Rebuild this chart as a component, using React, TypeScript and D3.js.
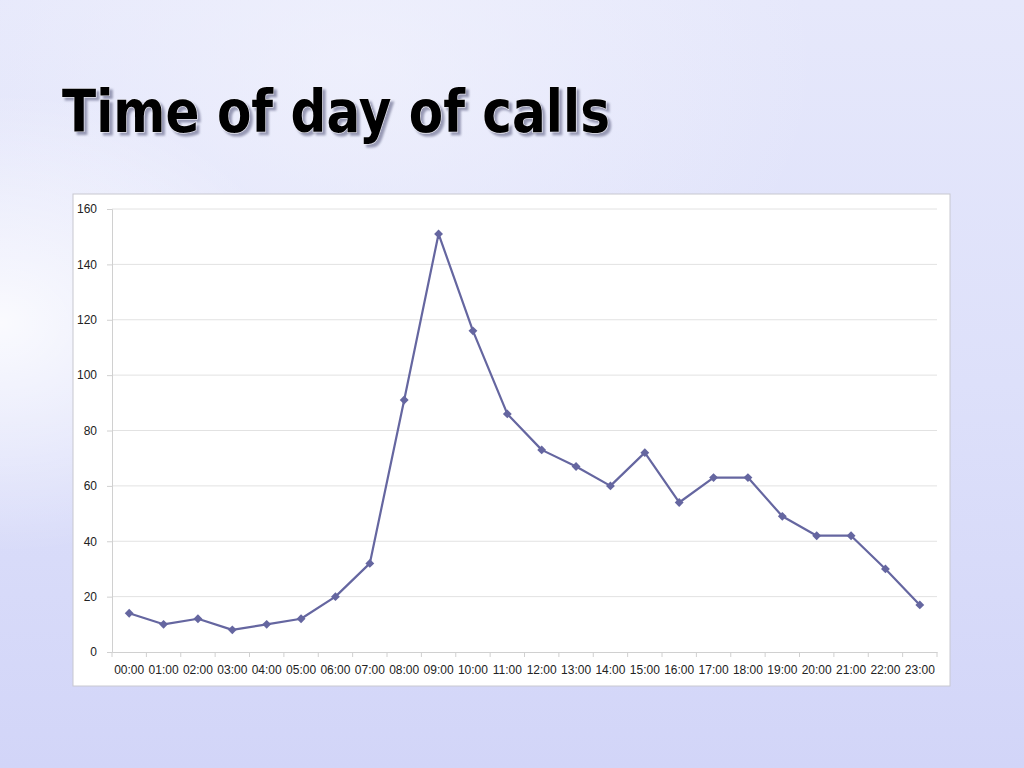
import React, { useRef, useEffect } from "react";
import * as d3 from "d3";

const hours = [
  "00:00", "01:00", "02:00", "03:00", "04:00", "05:00", "06:00", "07:00",
  "08:00", "09:00", "10:00", "11:00", "12:00", "13:00", "14:00", "15:00",
  "16:00", "17:00", "18:00", "19:00", "20:00", "21:00", "22:00", "23:00",
];
const calls = [14, 10, 12, 8, 10, 12, 20, 32, 91, 151, 116, 86, 73, 67, 60, 72, 54, 63, 63, 49, 42, 42, 30, 17];
const yTicks = [0, 20, 40, 60, 80, 100, 120, 140, 160];
const title = "Time of day of calls";

const W = 1024;
const H = 768;
const box = { x: 73, y: 194, w: 877, h: 492 };
const plot = { left: 112, right: 937, top: 209, bottom: 652 };

const App: React.FC = () => {
  const svg = useRef<SVGSVGElement>(null);

  useEffect(() => {
    const s = d3.select(svg.current);
    s.selectAll("*").remove();

    const defs = s.append("defs");
    const bg = defs.append("linearGradient").attr("id", "bg").attr("x1", 0).attr("y1", 0).attr("x2", 0).attr("y2", 1);
    bg.append("stop").attr("offset", "0%").attr("stop-color", "#e6e8fb");
    bg.append("stop").attr("offset", "50%").attr("stop-color", "#dde0fa");
    bg.append("stop").attr("offset", "100%").attr("stop-color", "#d2d5f8");
    const glow = defs.append("radialGradient").attr("id", "glow").attr("cx", 0).attr("cy", 0.42).attr("r", 0.3);
    glow.append("stop").attr("offset", "0%").attr("stop-color", "#ffffff").attr("stop-opacity", 0.85);
    glow.append("stop").attr("offset", "100%").attr("stop-color", "#ffffff").attr("stop-opacity", 0);
    const cloud = defs.append("radialGradient").attr("id", "cloud").attr("cx", 0.35).attr("cy", 0.08).attr("r", 0.45);
    cloud.append("stop").attr("offset", "0%").attr("stop-color", "#f2f3fd").attr("stop-opacity", 0.7);
    cloud.append("stop").attr("offset", "100%").attr("stop-color", "#f2f3fd").attr("stop-opacity", 0);
    const shadow = defs.append("filter").attr("id", "shadow").attr("x", "-5%").attr("y", "-20%").attr("width", "115%").attr("height", "150%");
    shadow.append("feDropShadow").attr("dx", 3).attr("dy", 3).attr("stdDeviation", 0.8)
      .attr("flood-color", "#8e90ac").attr("flood-opacity", 0.9);

    s.append("rect").attr("width", W).attr("height", H).attr("fill", "url(#bg)");
    s.append("rect").attr("width", W).attr("height", H).attr("fill", "url(#cloud)");
    s.append("rect").attr("width", W).attr("height", H).attr("fill", "url(#glow)");

    // title with drop shadow
    s.append("text")
      .attr("x", 62).attr("y", 132)
      .attr("font-family", "DejaVu Sans").attr("font-weight", "bold").attr("font-size", 58)
      .attr("textLength", 548).attr("lengthAdjust", "spacingAndGlyphs")
      .attr("fill", "#000").attr("stroke", "#f0f0f8").attr("stroke-width", 1.2).attr("paint-order", "stroke")
      .attr("filter", "url(#shadow)")
      .text(title);

    // chart box
    s.append("rect")
      .attr("x", box.x).attr("y", box.y).attr("width", box.w).attr("height", box.h)
      .attr("fill", "#fff").attr("stroke", "#c8c8d0").attr("stroke-width", 1);

    const x = d3.scaleBand().domain(hours).range([plot.left, plot.right]).padding(0);
    const y = d3.scaleLinear().domain([0, 160]).range([plot.bottom, plot.top]);

    const g = s.append("g");

    // gridlines
    g.selectAll("line.grid")
      .data(yTicks.filter((t) => t > 0))
      .join("line")
      .attr("class", "grid")
      .attr("x1", plot.left).attr("x2", plot.right)
      .attr("y1", (d) => y(d)).attr("y2", (d) => y(d))
      .attr("stroke", "#e2e2e2").attr("stroke-width", 1);

    // y axis
    const yAxis = g.append("g").attr("transform", `translate(${plot.left},0)`)
      .call(d3.axisLeft(y).tickValues(yTicks).tickSize(5).tickPadding(10));
    yAxis.select(".domain").attr("stroke", "#d0d0d0");
    yAxis.selectAll(".tick line").attr("stroke", "#d0d0d0");
    yAxis.selectAll("text").attr("font-family", "Liberation Sans").attr("font-size", 12).attr("fill", "#222");

    // x axis
    const xAxis = g.append("g").attr("transform", `translate(0,${plot.bottom})`)
      .call(d3.axisBottom(x).tickSize(0).tickPadding(13));
    xAxis.select(".domain").attr("stroke", "#d0d0d0");
    xAxis.selectAll("text").attr("font-family", "Liberation Sans").attr("font-size", 12).attr("fill", "#222");
    g.selectAll("line.xtick")
      .data(hours.concat(["end"]))
      .join("line")
      .attr("class", "xtick")
      .attr("x1", (_, i) => plot.left + i * x.bandwidth())
      .attr("x2", (_, i) => plot.left + i * x.bandwidth())
      .attr("y1", plot.bottom).attr("y2", plot.bottom + 5)
      .attr("stroke", "#d0d0d0");

    // series
    const cx = (i: number) => (x(hours[i]) as number) + x.bandwidth() / 2;
    const line = d3.line<number>().x((_, i) => cx(i)).y((d) => y(d));
    g.append("path")
      .datum(calls)
      .attr("d", line)
      .attr("fill", "none").attr("stroke", "#6566a0").attr("stroke-width", 2.2)
      .attr("stroke-linejoin", "round");

    const diamond = d3.symbol().type(d3.symbolDiamond2).size(50);
    g.selectAll("path.pt")
      .data(calls)
      .join("path")
      .attr("class", "pt")
      .attr("transform", (d, i) => `translate(${cx(i)},${y(d)})`)
      .attr("d", diamond)
      .attr("fill", "#6566a0");
  }, []);

  return (
    <svg ref={svg} width={W} height={H} style={{ position: "absolute", left: 0, top: 0 }}></svg>
  );
};

export default App;
